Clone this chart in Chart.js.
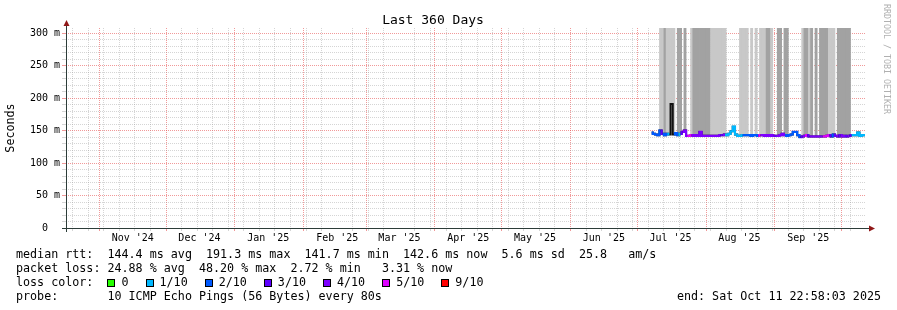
<!DOCTYPE html>
<html>
<head>
<meta charset="utf-8">
<title>Last 360 Days</title>
<script src="https://cdn.jsdelivr.net/npm/chart.js@4.4.1/dist/chart.umd.min.js"></script>
<style>
  body { margin: 0; background: #fff; }
  #wrap { position: relative; width: 897px; height: 310px; font-family: "DejaVu Sans Mono", monospace; color: #000; }
  #chart { position: absolute; left: 0; top: 0; }
  .legend { position: absolute; left: 16px; font-size: 11.7px; line-height: 14px; white-space: pre; }
  .sq { display: inline-block; width: 6px; height: 6px; border: 1px solid #000; vertical-align: -1px; margin-right: 6px; }
  .item { margin-right: 17px; }
  #end { position: absolute; right: 16px; top: 289px; font-size: 11.7px; line-height: 14px; white-space: pre; }
  #brand { position: absolute; left: 882px; top: 4px; writing-mode: vertical-rl; font-size: 8.3px; color: #b0b0b0; white-space: pre; }
</style>
</head>
<body>
<div id="wrap">
  <canvas id="chart" width="897" height="310"></canvas>
  <div id="brand">RRDTOOL / TOBI OETIKER</div>
  <div class="legend" style="top:247px">median rtt:  144.4 ms avg  191.3 ms max  141.7 ms min  142.6 ms now  5.6 ms sd  25.8   am/s</div>
  <div class="legend" style="top:261px">packet loss: 24.88 % avg  48.20 % max  2.72 % min   3.31 % now</div>
  <div class="legend" id="lossLegend" style="top:275px">loss color:  </div>
  <div class="legend" style="top:289px">probe:       10 ICMP Echo Pings (56 Bytes) every 80s</div>
  <div id="end">end: Sat Oct 11 22:58:03 2025</div>
</div>
<script>
const DAY = 86400000;
const endTime = Date.UTC(2025, 9, 11, 22, 58, 3);
const startTime = endTime - 360 * DAY;
const firstSample = Date.UTC(2025, 6, 7, 12);

// median rtt per day (ms), starting Jul 7 2025
const medianRtt = [
  147, 145, 144, 143, 150, 145, 143, 145, 144, 191,
  144, 146, 143, 145, 148, 150, 142, 142, 143, 142,
  143, 142, 148, 142, 142, 142, 142, 142, 142, 142,
  142, 143, 143, 144, 143, 145, 149, 156, 144, 142,
  142, 143, 143, 143, 143, 142, 143, 143, 142, 143,
  143, 142, 143, 142, 143, 142, 142, 142, 143, 145,
  143, 142, 143, 144, 148, 148, 143, 140, 141, 142,
  143, 141, 141, 141, 141, 141, 141, 141, 141, 142,
  143, 141, 144, 142, 141, 143, 141, 142, 141, 142,
  143, 143, 143, 147, 142, 143, 143
];

// lost pings out of 10 per day (null = no loss colour)
const lossTenths = [
  2, 2, 2, 2, 3, 2, 2, 1, 2, null,
  2, 2, 1, 3, 4, 4, 5, 5, 4, 4,
  4, 4, 4, 4, 4, 4, 4, 4, 4, 4,
  4, 3, 4, 1, 1, 1, 1, 1, 1, 1,
  1, 2, 2, 2, 2, 2, 2, 2, 5, 4,
  4, 4, 4, 4, 4, 3, 4, 4, 4, 4,
  2, 2, 2, 2, 2, 2, 2, 3, 4, 5,
  3, 4, 4, 4, 4, 4, 4, 5, 5, 5,
  3, 2, 3, 4, 3, 4, 4, 3, 4, 3,
  1, 1, 1, 1, 1, 1, 1
];

// smoke shade per day: 0 none, 1 light, 2 dark
const smokeShade = [
  0, 0, 0, 0, 1, 1, 2, 1, 1, 1,
  1, 0, 2, 2, 0, 2, 0, 0, 1, 2,
  2, 2, 2, 2, 2, 2, 2, 1, 1, 1,
  1, 1, 1, 1, 0, 0, 0, 0, 0, 0,
  1, 1, 1, 1, 0, 1, 0, 1, 0, 1,
  1, 1, 2, 2, 1, 0, 0, 2, 2, 0,
  2, 2, 0, 0, 0, 0, 0, 0, 1, 2,
  2, 1, 2, 0, 2, 0, 2, 2, 2, 2,
  1, 1, 1, 0, 2, 2, 2, 2, 2, 2,
  0, 0, 0, 0, 0, 0, 0
];
const smokeTop = 310;
const smokeColors = ['rgba(0,0,0,0)', '#c8c8c8', '#a2a2a2'];

const lossLevels = [0, 1, 2, 3, 4, 5, 9];
const lossLabels = ['0', '1/10', '2/10', '3/10', '4/10', '5/10', '9/10'];
const lossColors = ['#26ff00', '#00b8ff', '#0059ff', '#5e00ff', '#7e00ff', '#dd00ff', '#ff0000'];

const monthLabels = ["Nov '24", "Dec '24", "Jan '25", "Feb '25", "Mar '25", "Apr '25",
  "May '25", "Jun '25", "Jul '25", "Aug '25", "Sep '25"];
const yTickValues = [0, 50, 100, 150, 200, 250, 300];
const yTickLabels = ['0  ', '50 m', '100 m', '150 m', '200 m', '250 m', '300 m'];

const FONT = 'DejaVu Sans Mono';
const MAJOR = 'rgba(230,70,70,0.55)';
const MINOR = 'rgba(150,150,150,0.4)';

function toDays(t) { return (t - startTime) / DAY; }

function lossColor(loss) {
  if (loss === null || loss === undefined) return 'rgba(0,0,0,0)';
  let c = lossColors[0];
  lossLevels.forEach((lv, k) => { if (loss >= lv) c = lossColors[k]; });
  return c;
}

// legend row for loss colours
const lossBox = document.getElementById('lossLegend');
lossLabels.forEach((lbl, k) => {
  lossBox.innerHTML += `<span class="item"><span class="sq" style="background:${lossColors[k]}"></span>${lbl}</span>`;
});

// x ticks: weekly (minor), month start (major), mid-month (label)
const xTickType = new Map();
const xTickLabel = new Map();
for (let t = Date.UTC(2024, 9, 20); t < endTime; t += 7 * DAY) {
  xTickType.set(toDays(t), 'minor');
}
for (let k = 0; k < 12; k++) {
  xTickType.set(toDays(Date.UTC(2024, 10 + k, 1)), 'major');
}
monthLabels.forEach((lbl, k) => {
  const v = toDays(Date.UTC(2024, 10 + k, 16));
  xTickType.set(v, 'label');
  xTickLabel.set(v, lbl);
});
const xTicks = [...xTickType.keys()].filter(v => v > 0 && v < 360).sort((a, b) => a - b);

const xs = medianRtt.map((_, i) => toDays(firstSample + i * DAY));
const medianPoints = medianRtt.map((v, i) => ({ x: xs[i], y: v }));
const smokePoints = smokeShade.map((s, i) => ({ x: xs[i], y: s ? [medianRtt[i], smokeTop] : null }));

const axisArrows = {
  id: 'axisArrows',
  afterDraw(chart) {
    const { ctx, chartArea: a } = chart;
    const x0 = a.left + 0.5, y0 = a.bottom + 0.5;
    ctx.save();
    ctx.strokeStyle = '#2c3c38';
    ctx.lineWidth = 1;
    ctx.beginPath();
    ctx.moveTo(a.left - 4, y0); ctx.lineTo(a.right + 4, y0);
    ctx.moveTo(x0, a.bottom + 4); ctx.lineTo(x0, a.top - 3);
    ctx.stroke();
    ctx.fillStyle = '#901818';
    ctx.beginPath();
    ctx.moveTo(x0 - 3, a.top - 2); ctx.lineTo(x0 + 3, a.top - 2); ctx.lineTo(x0, a.top - 8);
    ctx.closePath(); ctx.fill();
    ctx.beginPath();
    ctx.moveTo(a.right + 3, y0 - 3); ctx.lineTo(a.right + 3, y0 + 3); ctx.lineTo(a.right + 9, y0);
    ctx.closePath(); ctx.fill();
    ctx.restore();
  }
};

new Chart(document.getElementById('chart'), {
  type: 'line',
  data: {
    datasets: [
      {
        label: 'median',
        data: medianPoints,
        borderWidth: 2.2,
        pointRadius: 0,
        stepped: 'middle',
        segment: {
          borderColor: c => {
            const a = lossTenths[c.p0DataIndex], b = lossTenths[c.p1DataIndex];
            return (a === null || b === null) ? 'rgba(0,0,0,0)' : lossColor(a);
          }
        }
      },
      {
        label: 'median outline',
        data: medianPoints,
        borderColor: '#111',
        borderWidth: 2,
        pointRadius: 0,
        stepped: 'middle'
      },
      {
        type: 'bar',
        label: 'smoke',
        data: smokePoints,
        backgroundColor: smokeShade.map(s => smokeColors[s]),
        borderWidth: 0,
        barPercentage: 1,
        categoryPercentage: 1
      }
    ]
  },
  options: {
    responsive: false,
    animation: false,
    events: [],
    layout: { padding: { left: 0, right: 31, top: 0, bottom: 0 } },
    plugins: {
      legend: { display: false },
      tooltip: { enabled: false },
      title: {
        display: true,
        text: 'Last 360 Days',
        color: '#000',
        font: { family: FONT, size: 13, weight: 'normal', lineHeight: 1.1 },
        padding: { top: 13, bottom: 0.7 }
      }
    },
    scales: {
      x: {
        type: 'linear',
        min: 0,
        max: 360,
        offset: false,
        z: 1,
        afterFit: s => { s.height = 82; },
        afterBuildTicks: s => { s.ticks = xTicks.map(v => ({ value: v })); },
        border: { display: false, dash: [1, 1] },
        grid: {
          offset: false,
          tickLength: 3,
          color: c => {
            const t = xTickType.get(c.tick && c.tick.value);
            return t === 'major' ? MAJOR : t === 'minor' ? MINOR : 'rgba(0,0,0,0)';
          },
          tickColor: c => {
            const t = xTickType.get(c.tick && c.tick.value);
            return t === 'major' ? MAJOR : t === 'minor' ? MINOR : 'rgba(0,0,0,0)';
          }
        },
        ticks: {
          autoSkip: false,
          maxRotation: 0,
          padding: 1,
          color: '#000',
          font: { family: FONT, size: 10 },
          callback: v => xTickLabel.get(v) || ''
        }
      },
      y: {
        type: 'linear',
        min: 0,
        max: 308,
        z: 1,
        afterFit: s => { s.width = 66; },
        afterBuildTicks: s => {
          const t = [];
          for (let v = 0; v <= 300; v += 10) t.push({ value: v });
          s.ticks = t;
        },
        border: { display: false, dash: [1, 1] },
        grid: {
          tickLength: 4,
          color: c => (c.tick.value % 50 === 0 ? MAJOR : MINOR),
          tickColor: c => (c.tick.value % 50 === 0 ? MAJOR : MINOR)
        },
        title: {
          display: true,
          text: 'Seconds',
          color: '#000',
          font: { family: FONT, size: 11.7, lineHeight: 1.2 },
          padding: { top: 4, bottom: 0 }
        },
        ticks: {
          autoSkip: false,
          padding: 2,
          color: '#000',
          font: { family: FONT, size: 10 },
          callback: v => {
            const k = yTickValues.indexOf(v);
            return k >= 0 ? yTickLabels[k] : '';
          }
        }
      }
    }
  },
  plugins: [axisArrows]
});
</script>
</body>
</html>
